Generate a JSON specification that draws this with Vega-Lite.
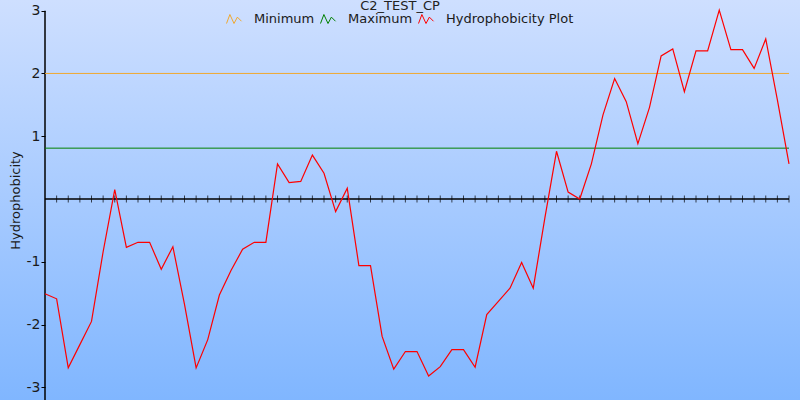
{
  "$schema": "https://vega.github.io/schema/vega-lite/v6.json",
  "width": 800,
  "height": 400,
  "padding": 0,
  "autosize": {"type": "none"},
  "background": "#A8CCFF",
  "config": {
    "font": "DejaVu Sans",
    "view": {
      "stroke": null,
      "fill": {
        "gradient": "linear",
        "x1": 0, "y1": 0, "x2": 0, "y2": 1,
        "stops": [
          {"offset": 0, "color": "#CEDFFF"},
          {"offset": 1, "color": "#80B6FF"}
        ]
      }
    }
  },
  "title": {
    "text": "C2_TEST_CP",
    "anchor": "middle",
    "fontSize": 13,
    "fontWeight": "normal",
    "font": "DejaVu Sans",
    "color": "#222222",
    "offset": -13
  },
  "datasets": {
    "plot": [
      {"s": "Hydrophobicity Plot", "i": 0, "v": -1.51}, {"s": "Hydrophobicity Plot", "i": 1, "v": -1.59},
      {"s": "Hydrophobicity Plot", "i": 2, "v": -2.69}, {"s": "Hydrophobicity Plot", "i": 3, "v": -2.32},
      {"s": "Hydrophobicity Plot", "i": 4, "v": -1.95}, {"s": "Hydrophobicity Plot", "i": 5, "v": -0.84},
      {"s": "Hydrophobicity Plot", "i": 6, "v": 0.15}, {"s": "Hydrophobicity Plot", "i": 7, "v": -0.77},
      {"s": "Hydrophobicity Plot", "i": 8, "v": -0.69}, {"s": "Hydrophobicity Plot", "i": 9, "v": -0.69},
      {"s": "Hydrophobicity Plot", "i": 10, "v": -1.12}, {"s": "Hydrophobicity Plot", "i": 11, "v": -0.76},
      {"s": "Hydrophobicity Plot", "i": 12, "v": -1.68}, {"s": "Hydrophobicity Plot", "i": 13, "v": -2.69},
      {"s": "Hydrophobicity Plot", "i": 14, "v": -2.24}, {"s": "Hydrophobicity Plot", "i": 15, "v": -1.53},
      {"s": "Hydrophobicity Plot", "i": 16, "v": -1.14}, {"s": "Hydrophobicity Plot", "i": 17, "v": -0.80},
      {"s": "Hydrophobicity Plot", "i": 18, "v": -0.69}, {"s": "Hydrophobicity Plot", "i": 19, "v": -0.69},
      {"s": "Hydrophobicity Plot", "i": 20, "v": 0.56}, {"s": "Hydrophobicity Plot", "i": 21, "v": 0.26},
      {"s": "Hydrophobicity Plot", "i": 22, "v": 0.28}, {"s": "Hydrophobicity Plot", "i": 23, "v": 0.70},
      {"s": "Hydrophobicity Plot", "i": 24, "v": 0.41}, {"s": "Hydrophobicity Plot", "i": 25, "v": -0.20},
      {"s": "Hydrophobicity Plot", "i": 26, "v": 0.17}, {"s": "Hydrophobicity Plot", "i": 27, "v": -1.06},
      {"s": "Hydrophobicity Plot", "i": 28, "v": -1.06}, {"s": "Hydrophobicity Plot", "i": 29, "v": -2.19},
      {"s": "Hydrophobicity Plot", "i": 30, "v": -2.71}, {"s": "Hydrophobicity Plot", "i": 31, "v": -2.43},
      {"s": "Hydrophobicity Plot", "i": 32, "v": -2.43}, {"s": "Hydrophobicity Plot", "i": 33, "v": -2.82},
      {"s": "Hydrophobicity Plot", "i": 34, "v": -2.67}, {"s": "Hydrophobicity Plot", "i": 35, "v": -2.40},
      {"s": "Hydrophobicity Plot", "i": 36, "v": -2.40}, {"s": "Hydrophobicity Plot", "i": 37, "v": -2.68},
      {"s": "Hydrophobicity Plot", "i": 38, "v": -1.84}, {"s": "Hydrophobicity Plot", "i": 39, "v": -1.63},
      {"s": "Hydrophobicity Plot", "i": 40, "v": -1.42}, {"s": "Hydrophobicity Plot", "i": 41, "v": -1.01},
      {"s": "Hydrophobicity Plot", "i": 42, "v": -1.42}, {"s": "Hydrophobicity Plot", "i": 43, "v": -0.30},
      {"s": "Hydrophobicity Plot", "i": 44, "v": 0.76}, {"s": "Hydrophobicity Plot", "i": 45, "v": 0.11},
      {"s": "Hydrophobicity Plot", "i": 46, "v": 0.00}, {"s": "Hydrophobicity Plot", "i": 47, "v": 0.56},
      {"s": "Hydrophobicity Plot", "i": 48, "v": 1.34}, {"s": "Hydrophobicity Plot", "i": 49, "v": 1.92},
      {"s": "Hydrophobicity Plot", "i": 50, "v": 1.55}, {"s": "Hydrophobicity Plot", "i": 51, "v": 0.88},
      {"s": "Hydrophobicity Plot", "i": 52, "v": 1.46}, {"s": "Hydrophobicity Plot", "i": 53, "v": 2.28},
      {"s": "Hydrophobicity Plot", "i": 54, "v": 2.39}, {"s": "Hydrophobicity Plot", "i": 55, "v": 1.71},
      {"s": "Hydrophobicity Plot", "i": 56, "v": 2.36}, {"s": "Hydrophobicity Plot", "i": 57, "v": 2.36},
      {"s": "Hydrophobicity Plot", "i": 58, "v": 3.01}, {"s": "Hydrophobicity Plot", "i": 59, "v": 2.38},
      {"s": "Hydrophobicity Plot", "i": 60, "v": 2.38}, {"s": "Hydrophobicity Plot", "i": 61, "v": 2.08},
      {"s": "Hydrophobicity Plot", "i": 62, "v": 2.55}, {"s": "Hydrophobicity Plot", "i": 63, "v": 1.58},
      {"s": "Hydrophobicity Plot", "i": 64, "v": 0.56}
    ],
    "limits": [
      {"s": "Minimum", "value": 2, "start": 0, "end": 64},
      {"s": "Maximum", "value": 0.81, "start": 0, "end": 64}
    ],
    "baseline": [
      {"value": 0, "start": 0, "end": 64}
    ],
    "yaxis": [
      {"pos": 0, "top": 3, "bottom": -3.202}
    ]
  },
  "layer": [
    {
      "data": {"name": "baseline"},
      "mark": {"type": "rule", "color": "black", "strokeWidth": 1.5},
      "encoding": {
        "x": {"field": "start", "type": "quantitative", "scale": {"domain": [-3.871, 64.946], "nice": false, "zero": false}, "axis": null},
        "x2": {"field": "end"},
        "y": {
          "field": "value",
          "type": "quantitative",
          "scale": {"domain": [-3.202, 3.17], "nice": false, "zero": false},
          "axis": {
            "values": [3, 2, 1, -1, -2, -3],
            "offset": -45,
            "domain": false,
            "grid": false,
            "tickSize": 4,
            "tickColor": "black",
            "labelFontSize": 14,
            "labelFont": "DejaVu Sans",
            "labelColor": "#1A1A1A",
            "labelPadding": 1,
            "labelExpr": "datum.value + ''",
            "title": "Hydrophobicity",
            "titleFontSize": 13,
            "titleFont": "DejaVu Sans",
            "titleFontWeight": "normal",
            "titleColor": "#1A1A1A",
            "titleAngle": -90,
            "titleX": -26,
            "titleY": 200,
            "titleAlign": "center",
            "titleBaseline": "alphabetic"
          }
        }
      }
    },
    {
      "data": {"name": "plot"},
      "transform": [{"filter": "datum.i > 0"}],
      "mark": {"type": "tick", "orient": "vertical", "size": 7, "thickness": 1, "color": "black"},
      "encoding": {
        "x": {"field": "i", "type": "quantitative"},
        "y": {"datum": 0, "type": "quantitative"}
      }
    },
    {
      "data": {"name": "yaxis"},
      "mark": {"type": "rule", "color": "black", "strokeWidth": 1.5},
      "encoding": {
        "x": {"field": "pos", "type": "quantitative"},
        "y": {"field": "top", "type": "quantitative"},
        "y2": {"field": "bottom"}
      }
    },
    {
      "data": {"name": "limits"},
      "mark": {"type": "rule", "strokeWidth": 1},
      "encoding": {
        "x": {"field": "start", "type": "quantitative"},
        "x2": {"field": "end"},
        "y": {"field": "value", "type": "quantitative"},
        "color": {
          "field": "s",
          "type": "nominal",
          "scale": {"domain": ["Minimum", "Maximum", "Hydrophobicity Plot"], "range": ["#F0A830", "#008000", "#FF0000"]},
          "legend": {
            "orient": "none",
            "legendX": 226,
            "legendY": 11,
            "direction": "horizontal",
            "title": null,
            "padding": 0,
            "symbolType": "M-1,0.6L-0.55,-0.6L0,0.6L0.45,-0.25L1,0.3",
            "symbolSize": 225,
            "symbolStrokeWidth": 1,
            "symbolFillColor": "transparent",
            "labelFontSize": 13,
            "labelFont": "DejaVu Sans",
            "labelColor": "#1A1A1A",
            "labelOffset": 12,
            "columnPadding": 3
          }
        }
      }
    },
    {
      "data": {"name": "plot"},
      "mark": {"type": "line", "strokeWidth": 1.2},
      "encoding": {
        "x": {"field": "i", "type": "quantitative"},
        "y": {"field": "v", "type": "quantitative"},
        "color": {"field": "s", "type": "nominal"}
      }
    }
  ]
}
